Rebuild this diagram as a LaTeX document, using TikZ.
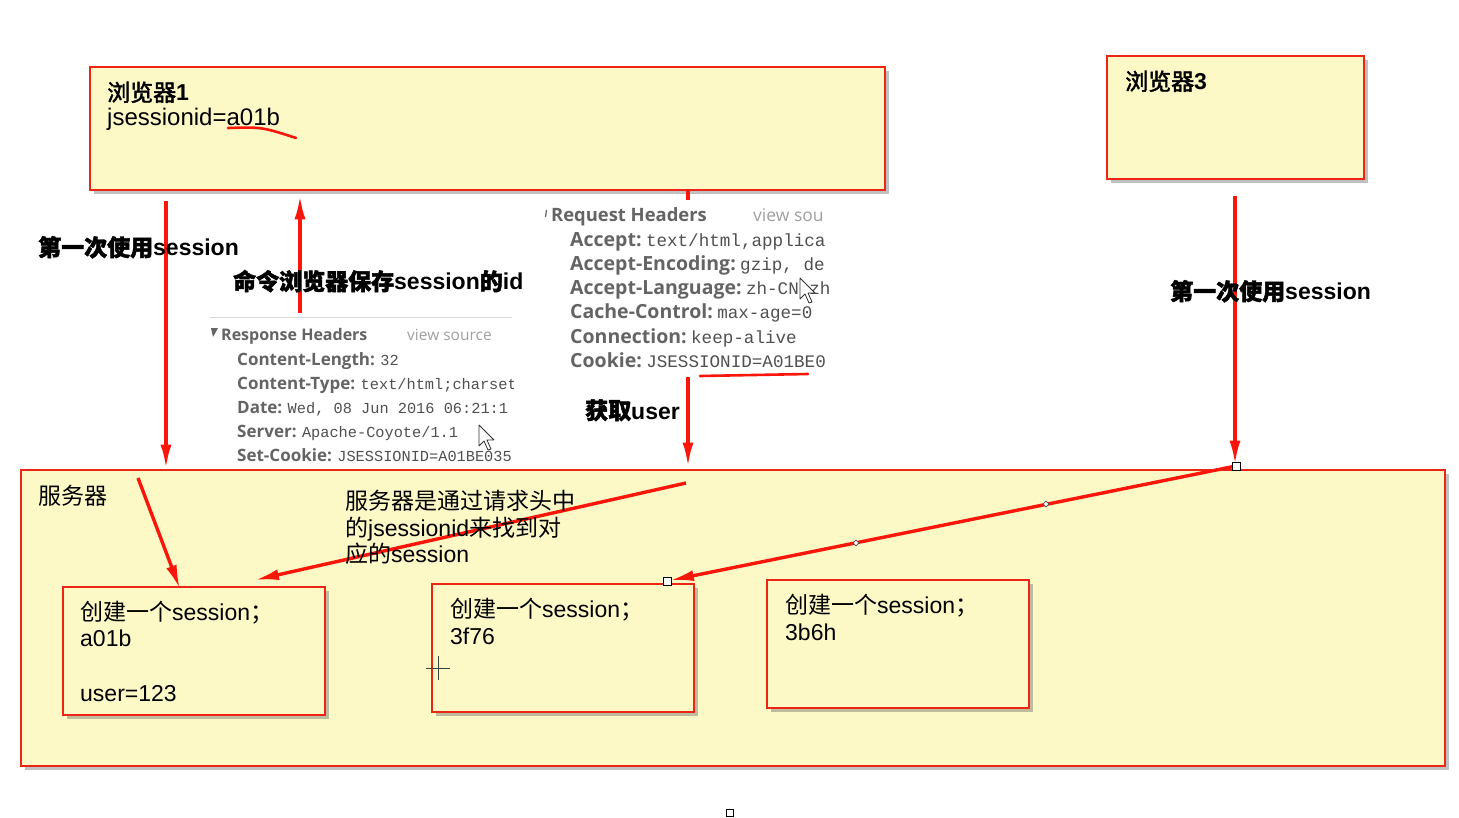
\documentclass[tikz,border=0pt]{standalone}
\usepackage{fontspec}
\usetikzlibrary{arrows.meta,shapes.geometric,shadows,calc}
\setmainfont{Liberation Sans}
\newfontfamily\cjk{Noto Sans CJK SC}
\newfontfamily\cjkb[FakeBold=2]{Noto Sans CJK SC}
\newfontfamily\hdrfont{Open Sans}
\newfontfamily\monofont{Liberation Mono}
\newcommand\zh[1]{{\cjk #1}}
\newcommand\zhb[1]{{\cjkb #1}}
\definecolor{boxyel}{RGB}{252,249,199}
\definecolor{boxred}{RGB}{236,38,22}
\definecolor{arrred}{RGB}{250,22,10}
\definecolor{keygray}{RGB}{100,100,100}
\definecolor{valgray}{RGB}{80,80,80}
\definecolor{srcgray}{RGB}{160,160,160}
\begin{document}
\begin{tikzpicture}[x=1pt,y=-1pt,
  box/.style={draw=boxred, line width=2.6pt, fill=boxyel, inner sep=0pt,
    drop shadow={shadow xshift=4pt, shadow yshift=-4pt, opacity=0.35, fill=black!70}},
  txt/.style={anchor=base west, inner sep=0pt, font=\fontsize{23}{27}\selectfont},
  btxt/.style={anchor=base west, inner sep=0pt, font=\fontsize{23}{27}\selectfont\bfseries},
  arr/.style={draw=arrred, line width=3.4pt, -{Latex[length=24pt,width=11pt]}},
  hkey/.style={anchor=base west, inner sep=0pt, text=keygray, font=\hdrfont\bfseries\fontsize{19.5}{23}\selectfont},
  htit/.style={anchor=base west, inner sep=0pt, text=keygray, font=\hdrfont\bfseries\fontsize{18.4}{23}\selectfont},
  hval/.style={anchor=base west, inner sep=0pt, text=valgray, font=\monofont\fontsize{17.6}{21}\selectfont},
  hsrc/.style={anchor=base west, inner sep=0pt, text=srcgray, font=\hdrfont\fontsize{17.5}{21}\selectfont},
  skey/.style={anchor=base west, inner sep=0pt, text=keygray, font=\hdrfont\bfseries\fontsize{17}{21}\selectfont},
  stit/.style={anchor=base west, inner sep=0pt, text=keygray, font=\hdrfont\bfseries\fontsize{16}{21}\selectfont},
  sval/.style={anchor=base west, inner sep=0pt, text=valgray, font=\monofont\fontsize{15.3}{19}\selectfont},
  ssrc/.style={anchor=base west, inner sep=0pt, text=srcgray, font=\hdrfont\fontsize{15.5}{19}\selectfont},
  handle/.style={draw=black, fill=white, line width=0.8pt, minimum size=8pt, inner sep=0pt},
  diam/.style={diamond, draw=black!70, fill=white, line width=0.6pt, minimum size=6pt, inner sep=0pt},
  cursor/.style={draw=black!80, fill=white, line width=0.8pt, line join=round},
  panel/.style={fill=white, draw=none}
]
\useasboundingbox (0,0) rectangle (1459,818);
\fill[white] (0,0) rectangle (1459,818);

% ---------- boxes ----------
\node[box, minimum width=795pt, minimum height=123pt] (b1) at (487.5,128.5) {};
\node[box, minimum width=257pt, minimum height=123pt] (b3) at (1235.5,117.5) {};
\node[box, minimum width=1424pt, minimum height=296pt] (srv) at (733,618) {};
\node[box, minimum width=262pt, minimum height=128pt] (bx1) at (194,651) {};
\node[box, minimum width=262pt, minimum height=128pt] (bx2) at (563,648) {};
\node[box, minimum width=262pt, minimum height=128pt] (bx3) at (898,644) {};

% ---------- helper coordinates ----------
\coordinate (x166) at (166,0);
\coordinate (x688) at (688,0);
\coordinate (x1235) at (1235,0);
\coordinate (cmd) at (300,313);
\coordinate (s1) at (138,478);
\coordinate (s1e) at (180,589);
\coordinate (s2) at (686,483);
\coordinate (s2e) at (255,580);

% ---------- arrows ----------
\draw[arr, shorten <=10pt] (b1.south -| x166) -- (srv.north -| x166);
\draw[arr, shorten >=4pt] (cmd) -- (b1.south -| cmd);
\draw[arr, shorten >=2pt] (b1.south -| x688) -- (srv.north -| x688);
\draw[arr, shorten <=16pt, shorten >=4pt] (b3.south -| x1235) -- (srv.north -| x1235);
\draw[arr] (s1) -- (s1e);
\draw[arr] (s2) -- (s2e);

% ---------- header panels ----------
\fill[panel] (540,200) rectangle (832,377);
\fill[panel] (205,318) rectangle (515,466);
\draw[black!15, line width=1pt] (210,318) -- (512,318);

% request headers
\begin{scope}
\clip (540,200) rectangle (829,380);
\draw[keygray, line width=1.2pt] (546.5,210) -- (545.5,217);
\node[htit] (rqh) at (551,222) {Request Headers};
\node[hsrc] (rqs) at (753,222) {view sou};
\node[hkey] (k1) at (570,247) {Accept:};
\node[hval] (v1) at ([xshift=4pt]k1.base east) {text/html,applica};
\node[hkey] (k2) at (570,271) {Accept-Encoding:};
\node[hval] (v2) at ([xshift=4pt]k2.base east) {gzip, de};
\node[hkey] (k3) at (570,295) {Accept-Language:};
\node[hval] (v3) at ([xshift=4pt]k3.base east) {zh-CN,zh};
\node[hkey] (k4) at (570,319) {Cache-Control:};
\node[hval] (v4) at ([xshift=4pt]k4.base east) {max-age=0};
\node[hkey] (k5) at (570,343) {Connection:};
\node[hval] (v5) at ([xshift=4pt]k5.base east) {keep-alive};
\node[hkey] (k6) at (570,367) {Cookie:};
\node[hval] (v6) at ([xshift=4pt]k6.base east) {JSESSIONID=A01BE0};
\end{scope}

% response headers
\begin{scope}
\clip (205,318) rectangle (513,468);
\fill[keygray] (211,328) -- (218,328) -- (213,337) -- cycle;
\node[stit] (rsh) at (221,340) {Response Headers};
\node[ssrc] (rss) at (407,340) {view source};
\node[skey] (r1) at (237,365) {Content-Length:};
\node[sval] (w1) at ([xshift=5pt]r1.base east) {32};
\node[skey] (r2) at (237,389) {Content-Type:};
\node[sval] (w2) at ([xshift=5pt]r2.base east) {text/html;charset};
\node[skey] (r3) at (237,413) {Date:};
\node[sval] (w3) at ([xshift=5pt]r3.base east) {Wed, 08 Jun 2016 06:21:1};
\node[skey] (r4) at (237,437) {Server:};
\node[sval] (w4) at ([xshift=5pt]r4.base east) {Apache-Coyote/1.1};
\node[skey] (r5) at (237,461) {Set-Cookie:};
\node[sval] (w5) at ([xshift=5pt]r5.base east) {JSESSIONID=A01BE035};
\end{scope}

% red underlines
\draw[arrred, line width=2.6pt, line cap=round] (700,376) -- (808,374);
\draw[arrred, line width=2.6pt, line cap=round] (228,128) .. controls (262,127) .. (296,138);

% ---------- browser3 -> server line with handles ----------
\node[handle] (h1) at (1236,466) {};
\node[handle] (h2) at (667,581) {};
\draw[arr, shorten >=3pt] (h1.center) -- (h2.center);
\node[handle] at (1236,466) {};
\node[handle] at (667,581) {};
\node[diam] (d1) at (1046,504) {};
\node[diam] (d2) at (856,543) {};
\node[handle, minimum size=7pt] (bsq) at (730,813) {};

% ---------- texts ----------
\node[txt] (t1) at (107,101) {\zhb{浏览器}\textbf{1}};
\node[txt, font=\fontsize{24}{28}\selectfont] (t2) at (107,126) {jsessionid=a01b};
\node[txt] (t3) at (1125,90) {\zhb{浏览器}\textbf{3}};
\node[txt] (t4) at (38,504) {\zh{服务器}};
\node[txt] (c1) at (80,620) {\zh{创建一个}session\zh{；}};
\node[txt] (c1b) at (80,646) {a01b};
\node[txt] (c1c) at (80,701) {user=123};
\node[txt] (c2) at (450,617) {\zh{创建一个}session\zh{；}};
\node[txt] (c2b) at (450,644) {3f76};
\node[txt] (c3) at (785,613) {\zh{创建一个}session\zh{；}};
\node[txt] (c3b) at (785,640) {3b6h};
\node[txt] (n1) at (345,509) {\zh{服务器是通过请求头中}};
\node[txt] (n2) at (345,536) {\zh{的}jsessionid\zh{来找到对}};
\node[txt] (n3) at (345,562) {\zh{应的}session};

\node[btxt] (l1) at (38,256) {\zhb{第一次使用}session};
\node[btxt] (l2) at (233,290) {\zhb{命令浏览器保存}session\zhb{的}id};
\node[btxt] (l3) at (585,419) {\zhb{获取}user};
\node[btxt] (l4) at (1170,300) {\zhb{第一次使用}session};

% ---------- cursors ----------
\draw[black!75, line width=0.8pt] (426,668) -- (450,668) (438,656) -- (438,680);
\draw[cursor] (479,425) -- (479,446) -- (484,441) -- (488,450) -- (491,449) -- (487,440) -- (494,440) -- cycle;
\draw[cursor] (800,278) -- (800,299) -- (805,294) -- (809,303) -- (812,302) -- (808,293) -- (815,293) -- cycle;
\end{tikzpicture}
\end{document}
